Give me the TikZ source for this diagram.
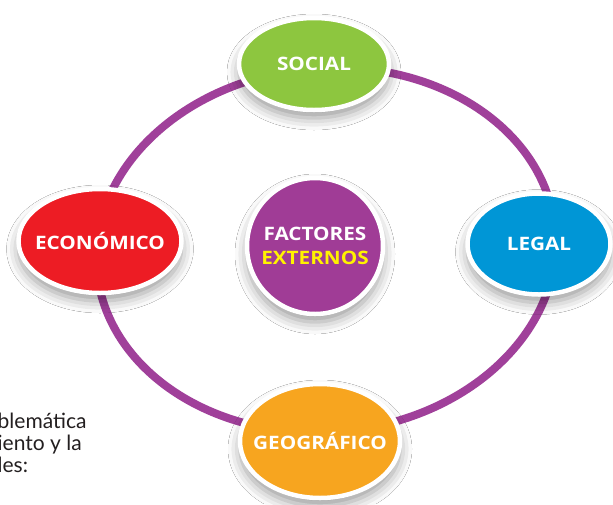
\documentclass[tikz,border=0pt]{standalone}
\usepackage{fontspec}
\setmainfont{Open Sans}
\newfontfamily\lblfont[FakeStretch=1.12]{Open Sans}
\newfontfamily\bodyfont{Lato}
\usetikzlibrary{shapes.geometric,shadows.blur}
\definecolor{ringpurple}{HTML}{A0409A}
\definecolor{socialgreen}{HTML}{8DC63F}
\definecolor{econred}{HTML}{ED1C24}
\definecolor{legalblue}{HTML}{0096D6}
\definecolor{geoorange}{HTML}{F7A51F}
\definecolor{centerpurple}{HTML}{A03C96}
\definecolor{yellowtxt}{HTML}{FFF200}
\definecolor{bodygray}{HTML}{231F20}
\tikzset{
  ringline/.style={draw=ringpurple, line width=8pt},
  bubble/.style={ellipse, draw=white, line width=4.5pt, text=white,
    font=\lblfont\bfseries\fontsize{18.5}{24}\selectfont, inner sep=0pt,
    blur shadow={shadow xshift=0pt, shadow yshift=-8pt, shadow blur radius=12pt, shadow opacity=40}},
  bodytext/.style={font=\bodyfont\fontsize{21}{22}\selectfont, text=bodygray, inner sep=0pt, anchor=base west}
}
\begin{document}
\begin{tikzpicture}[x=1pt,y=-1pt]
\useasboundingbox (0,0) rectangle (613,504);
\clip (0,0) rectangle (613,504);
\fill[white] (0,0) rectangle (613,504);
% ring
\coordinate (ringc) at (326,250);
\draw[ringline, rotate around={5:(ringc)}] (ringc) ellipse [x radius=230, y radius=182];
% body text (cut-off page text)
\node[bodytext] (t1) at (-2.5,428) {blemática};
\node[bodytext] (t2) at (-2.5,450) {iento y la};
\node[bodytext] (t3) at (-2.5,472) {les:};
% nodes
\node[bubble, fill=socialgreen, minimum width=150, minimum height=92] (social) at (314,64) {\makebox[0pt]{SOCIAL}};
\node[bubble, fill=econred, minimum width=163, minimum height=104] (econ) at (100,241) {\makebox[0pt]{ECONÓMICO}};
\node[bubble, fill=legalblue, minimum width=143, minimum height=101] (legal) at (539,244) {\makebox[0pt]{LEGAL}};
\node[bubble, fill=geoorange, minimum width=160, minimum height=114] (geo) at (320,441) {\makebox[0pt]{GEOGRÁFICO}};
\node[bubble, circle, fill=centerpurple, minimum size=136, align=center] (center) at (315,246) {FACTORES\\\textcolor{yellowtxt}{EXTERNOS}};
\end{tikzpicture}
\end{document}
